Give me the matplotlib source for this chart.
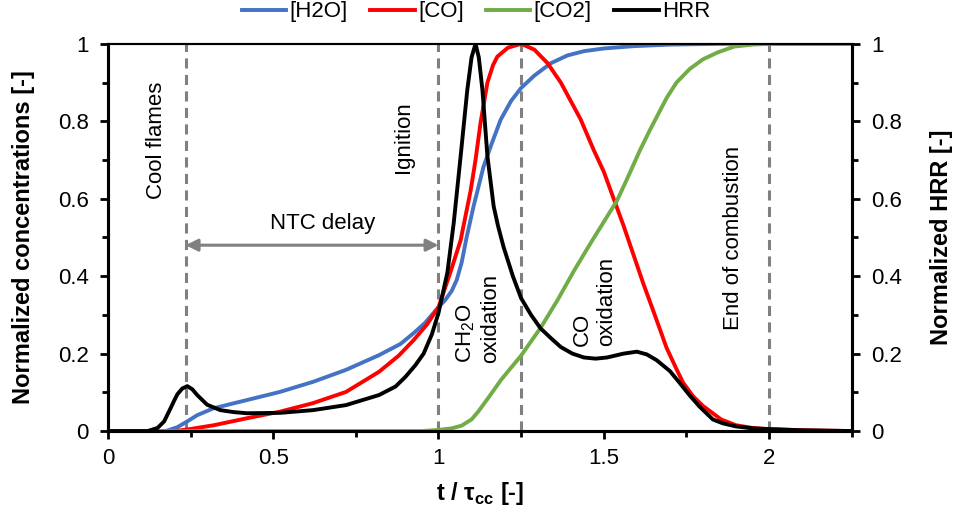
# normalized species concentrations and heat release rate vs normalized time
import matplotlib.pyplot as plt
from matplotlib.ticker import MultipleLocator

plt.rcParams['font.family'] = ['Liberation Sans', 'DejaVu Sans']
plt.rcParams['mathtext.fontset'] = 'custom'
plt.rcParams['mathtext.rm'] = 'Liberation Sans'
plt.rcParams['mathtext.bf'] = 'Liberation Sans:bold'
plt.rcParams['font.size'] = 16

# [H2O]
h2o_t = [0, 0.175, 0.21, 0.24, 0.27, 0.32, 0.42, 0.52, 0.62, 0.72, 0.82, 0.885,
         0.925, 0.96, 1.0, 1.02, 1.04, 1.055, 1.07, 1.085, 1.106, 1.136, 1.16, 1.188,
         1.22, 1.25, 1.29, 1.34, 1.39, 1.44, 1.5, 1.59, 1.7, 1.85, 2.25]
h2o = [0, 0, 0.01, 0.025, 0.041, 0.059, 0.08, 0.101, 0.127, 0.158, 0.196, 0.225,
       0.253, 0.28, 0.32, 0.338, 0.362, 0.39, 0.435, 0.5, 0.58, 0.682, 0.74, 0.804,
       0.853, 0.886, 0.918, 0.95, 0.97, 0.981, 0.988, 0.994, 0.998, 1.0, 1.0]

# [CO]
co_t = [0, 0.2, 0.24, 0.32, 0.42, 0.52, 0.62, 0.72, 0.82, 0.88, 0.925, 0.965,
        1.0, 1.036, 1.067, 1.097, 1.112, 1.127, 1.148, 1.165, 1.178, 1.21, 1.25,
        1.29, 1.33, 1.37, 1.43, 1.47, 1.5, 1.53, 1.56, 1.59, 1.62, 1.65, 1.69,
        1.72, 1.74, 1.77, 1.8, 1.855, 1.9, 1.95, 2.0, 2.1, 2.25]
co = [0, 0, 0.004, 0.015, 0.033, 0.05, 0.072, 0.101, 0.153, 0.195, 0.235, 0.275,
      0.32, 0.41, 0.493, 0.62, 0.70, 0.795, 0.9, 0.945, 0.967, 0.99, 1.0,
      0.985, 0.95, 0.9, 0.805, 0.725, 0.67, 0.6, 0.53, 0.455, 0.38, 0.31, 0.215,
      0.16, 0.125, 0.09, 0.065, 0.03, 0.015, 0.008, 0.005, 0.002, 0.0]

# [CO2]
co2_t = [0, 0.95, 1.0, 1.04, 1.07, 1.1, 1.12, 1.15, 1.19, 1.25, 1.31, 1.36, 1.41,
         1.46, 1.5, 1.54, 1.57, 1.61, 1.64, 1.69, 1.72, 1.76, 1.8, 1.845, 1.895,
         1.95, 2.0, 2.25]
co2 = [0, 0, 0.003, 0.007, 0.014, 0.03, 0.05, 0.085, 0.133, 0.195, 0.268, 0.338,
       0.414, 0.485, 0.54, 0.595, 0.65, 0.726, 0.778, 0.86, 0.9, 0.935, 0.96,
       0.978, 0.993, 0.998, 1.0, 1.0]

# HRR
hrr_t = [0, 0.12, 0.15, 0.17, 0.19, 0.2, 0.21, 0.225, 0.24, 0.255, 0.27, 0.30,
         0.34, 0.38, 0.42, 0.52, 0.62, 0.72, 0.82, 0.87, 0.90, 0.93, 0.955, 0.98,
         1.0, 1.027, 1.046, 1.067, 1.087, 1.10, 1.112, 1.122, 1.133, 1.148, 1.167,
         1.18, 1.197, 1.225, 1.25, 1.28, 1.309, 1.34, 1.37, 1.405, 1.44, 1.475,
         1.51, 1.56, 1.60, 1.63, 1.66, 1.70, 1.73, 1.76, 1.79, 1.83, 1.86, 1.9,
         1.95, 2.0, 2.1, 2.25]
hrr = [0, 0, 0.008, 0.025, 0.06, 0.078, 0.095, 0.11, 0.116, 0.108, 0.093, 0.068,
       0.054, 0.049, 0.046, 0.047, 0.054, 0.067, 0.093, 0.115, 0.14, 0.17, 0.20, 0.25,
       0.305, 0.41, 0.537, 0.71, 0.88, 0.965, 1.0, 0.965, 0.88, 0.71, 0.58,
       0.53, 0.475, 0.40, 0.343, 0.30, 0.265, 0.24, 0.217, 0.2, 0.19, 0.187,
       0.19, 0.2, 0.205, 0.198, 0.183, 0.155, 0.124, 0.092, 0.063, 0.03, 0.02, 0.012,
       0.007, 0.005, 0.002, 0.0]

events = [0.235, 1.0, 1.25, 2.0]

fig = plt.figure(figsize=(9.58, 5.15), dpi=100)
ax = fig.add_axes([0.1127, 0.163, 0.7763, 0.7519])
ax2 = ax.twinx()

for xe in events:
    ax.plot([xe, xe], [0, 1], color='#808080', lw=2.2, ls=(0, (3.3, 2.1)), zorder=1)

lw = 2.8
l1, = ax.plot(h2o_t, h2o, color='#4472C4', lw=lw, label='[H2O]', zorder=3)
l2, = ax.plot(co_t, co, color='#FF0000', lw=lw, label='[CO]', zorder=3)
l3, = ax.plot(co2_t, co2, color='#70AD47', lw=lw, label='[CO2]', zorder=3)
l4, = ax2.plot(hrr_t, hrr, color='black', lw=lw, label='HRR')

ax.annotate('', xy=(1.0, 0.48), xytext=(0.235, 0.48),
            arrowprops=dict(arrowstyle='<|-|>', color='#808080', lw=2.2,
                            mutation_scale=18, shrinkA=0, shrinkB=0))

ax.text(0.148, 0.75, 'Cool flames', rotation=90, ha='center', va='center')
ax.text(0.894, 0.76, 'Ignition', rotation=90, ha='center', va='center')
ax.text(0.65, 0.535, 'NTC delay', ha='center', va='center')
ax.text(1.118, 0.29, 'CH$_2$O\noxidation', rotation=90, ha='center', va='center',
        multialignment='left')
ax.text(1.473, 0.335, 'CO\noxidation', rotation=90, ha='center', va='center',
        multialignment='left')
ax.text(1.894, 0.50, 'End of combustion', rotation=90, ha='center', va='center')

for a in (ax, ax2):
    a.set_xlim(0, 2.25)
    a.set_ylim(0, 1)
    a.yaxis.set_major_locator(MultipleLocator(0.2))
    a.yaxis.set_minor_locator(MultipleLocator(0.1))
    for s in a.spines.values():
        s.set_linewidth(2.2)
    a.spines['top'].set_linewidth(1.5)
    a.tick_params(which='major', direction='out', length=6, width=2, pad=8)
    a.tick_params(which='minor', direction='out', length=4, width=2)

ax.xaxis.set_major_locator(MultipleLocator(0.5))
ax.xaxis.set_minor_locator(MultipleLocator(0.25))
ax.tick_params(axis='x', which='major', pad=6)
ylabels = ['0', '0.2', '0.4', '0.6', '0.8', '1']
ax.set_yticks([0, 0.2, 0.4, 0.6, 0.8, 1.0], ylabels)
ax2.set_yticks([0, 0.2, 0.4, 0.6, 0.8, 1.0], ylabels)
ax.set_xticks([0, 0.5, 1.0, 1.5, 2.0], ['0', '0.5', '1', '1.5', '2'])

ax.set_ylabel('Normalized concentrations [-]', fontweight='bold', fontsize=17,
              labelpad=16)
ax2.set_ylabel('Normalized HRR [-]', fontweight='bold', fontsize=17, labelpad=20)
ax.set_xlabel('t / τ$_\\mathbf{cc}$ [-]', fontweight='bold', fontsize=17, labelpad=8)

fig.legend(handles=[l1, l2, l3, l4], loc='center', bbox_to_anchor=(0.497, 0.977),
           ncol=4, frameon=False, handlelength=2.0, handletextpad=0.15,
           columnspacing=1.0, fontsize=16)

fig.savefig('out.png', dpi=100)
